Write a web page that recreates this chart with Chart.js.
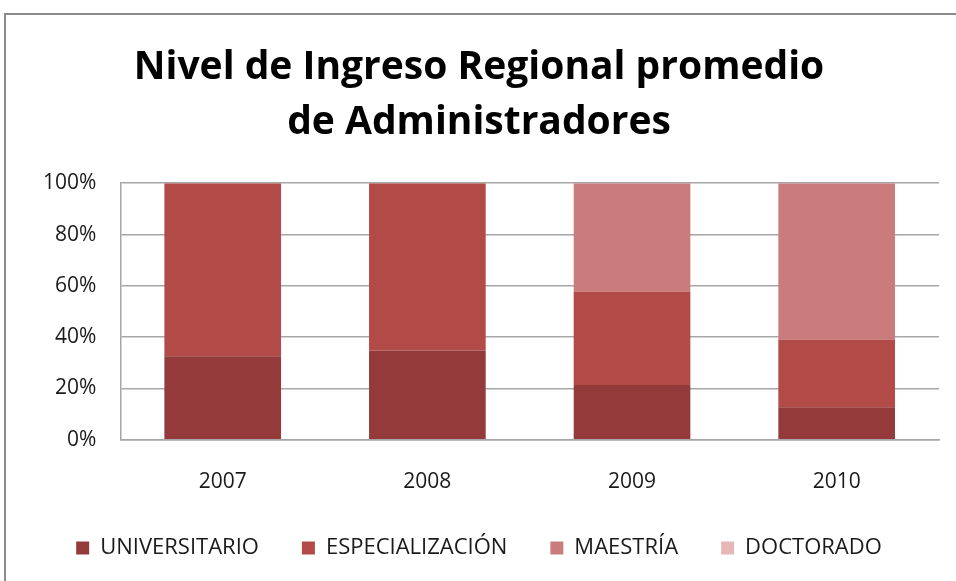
<!DOCTYPE html>
<html>
<head>
<meta charset="utf-8">
<script src="https://cdn.jsdelivr.net/npm/chart.js@4"></script>
<style>
  html, body { margin: 0; padding: 0; background: #fff; }
  body { width: 956px; height: 581px; position: relative; overflow: hidden; }
  .frame { position: absolute; left: 4px; top: 13px; width: 960px; height: 580px; border: 2px solid #8c8c8c; box-sizing: border-box; }
  .wrap { position: absolute; left: 0; top: 0; width: 956px; height: 581px; }
</style>
</head>
<body>
<div class="frame"></div>
<div class="wrap"><canvas id="myChart" width="956" height="581"></canvas></div>
<script>
var years = ['2007', '2008', '2009', '2010'];
var universitario = [32.6, 34.8, 21.4, 12.7];
var especializacion = [67.4, 65.2, 36.4, 26.4];
var maestria = [0, 0, 42.2, 60.9];
var doctorado = [0, 0, 0, 0];
var yTicks = [0, 20, 40, 60, 80, 100];

var font = '"Open Sans", "Liberation Sans", sans-serif';

var ctx = document.getElementById('myChart').getContext('2d');
var myChart = new Chart(ctx, {
  type: 'bar',
  data: {
    labels: years,
    datasets: [
      { label: 'UNIVERSITARIO', data: universitario, backgroundColor: '#953a3a' },
      { label: 'ESPECIALIZACIÓN', data: especializacion, backgroundColor: '#b24a47' },
      { label: 'MAESTRÍA', data: maestria, backgroundColor: '#c97c7b' },
      { label: 'DOCTORADO', data: doctorado, backgroundColor: '#e5b8b7' }
    ]
  },
  options: {
    responsive: false,
    animation: false,
    devicePixelRatio: 1,
    layout: { padding: { left: 19, right: 17, top: 41, bottom: 12 } },
    datasets: { bar: { categoryPercentage: 1, barPercentage: 0.57 } },
    scales: {
      x: {
        stacked: true,
        grid: { display: false, drawTicks: false },
        border: { color: '#a6a6a6', width: 1.5 },
        ticks: { color: '#1a1a1a', font: { family: font, size: 21 }, padding: 30 },
        afterFit: function (scale) { scale.height -= 31; }
      },
      y: {
        stacked: true,
        min: 0,
        max: 100,
        afterBuildTicks: function (axis) {
          axis.ticks = yTicks.map(function (v) { return { value: v }; });
        },
        grid: { color: '#a6a6a6', lineWidth: 1.5, drawTicks: false },
        border: { color: '#a6a6a6', width: 1.5 },
        ticks: {
          color: '#1a1a1a',
          font: { family: font, size: 21 },
          padding: 24,
          callback: function (v) { return v + '%'; }
        }
      }
    },
    plugins: {
      legend: {
        position: 'bottom',
        labels: {
          color: '#1a1a1a',
          font: { family: font, size: 22 },
          boxWidth: 13,
          boxHeight: 13,
          padding: 43,
          useBorderRadius: false
        }
      },
      title: {
        display: true,
        text: ['Nivel de Ingreso Regional promedio', 'de Administradores'],
        color: '#000',
        font: { family: font, size: 39, weight: 'bold', lineHeight: 1.4 },
        padding: { top: 0, bottom: 33 }
      },
      tooltip: { enabled: false }
    }
  }
});
</script>
</body>
</html>
